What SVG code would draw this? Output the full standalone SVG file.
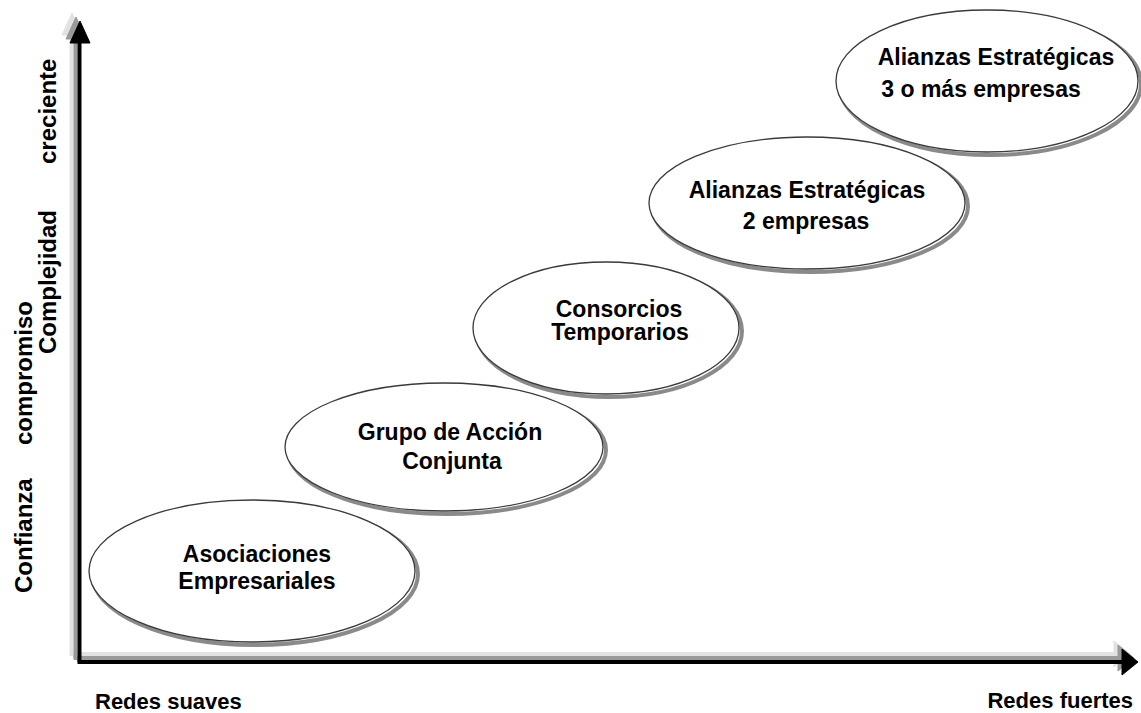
<svg xmlns="http://www.w3.org/2000/svg" width="1141" height="713" viewBox="0 0 1141 713">
<style>
.t{font-family:"Liberation Sans",Arial,sans-serif;font-weight:bold;fill:#000;}
.nt{font-size:23px;text-anchor:middle;}
.ax{font-size:24px;}
.bx{font-size:22px;}
.sh{fill:none;stroke:#8a8a8a;stroke-width:4;}
.el{fill:#fff;stroke:#3a3a3a;stroke-width:1.3;}
</style>
<defs>
<g id="axis">
<line x1="79.5" y1="40" x2="79.5" y2="662" stroke-width="4"/>
<line x1="77.5" y1="662" x2="1124" y2="662" stroke-width="4"/>
<polygon points="80,21 70,43 90,43"/>
<polygon points="1138,662 1122,649 1122,675"/>
</g>
</defs>
<rect width="1141" height="713" fill="#fff"/>
<g id="connectors">
<use href="#axis" transform="translate(-8,-8)" fill="#e2e2e2" stroke="#e2e2e2"/>
<use href="#axis" transform="translate(-4,-4)" fill="#9a9a9a" stroke="#9a9a9a"/>
<use href="#axis" fill="#000" stroke="#000"/>
</g>
<g id="n1">
<ellipse class="sh" cx="255" cy="574" rx="163" ry="71"/>
<ellipse class="el" cx="252" cy="571" rx="163" ry="71"/>
<text class="t nt" x="257" y="562">Asociaciones</text>
<text class="t nt" x="257" y="589">Empresariales</text>
</g>
<g id="n2">
<ellipse class="sh" cx="447" cy="450" rx="159" ry="64"/>
<ellipse class="el" cx="444" cy="447" rx="159" ry="64"/>
<text class="t nt" x="450" y="440">Grupo de Acción</text>
<text class="t nt" x="452" y="469">Conjunta</text>
</g>
<g id="n3">
<ellipse class="sh" cx="609" cy="331" rx="133" ry="66"/>
<ellipse class="el" cx="606" cy="328" rx="133" ry="66"/>
<text class="t nt" x="619" y="317">Consorcios</text>
<text class="t nt" x="620" y="340">Temporarios</text>
</g>
<g id="n4">
<ellipse class="sh" cx="810" cy="206" rx="158" ry="66"/>
<ellipse class="el" cx="807" cy="203" rx="158" ry="66"/>
<text class="t nt" x="807" y="198">Alianzas Estratégicas</text>
<text class="t nt" x="806" y="229">2 empresas</text>
</g>
<g id="n5">
<ellipse class="sh" cx="990" cy="84" rx="151" ry="71"/>
<ellipse class="el" cx="987" cy="81" rx="151" ry="71"/>
<text class="t nt" x="996" y="65">Alianzas Estratégicas</text>
<text class="t nt" x="981" y="97">3 o más empresas</text>
</g>
<g id="labels">
<text class="t ax" transform="translate(32,593) rotate(-90)">Confianza</text>
<text class="t ax" transform="translate(32,445) rotate(-90)">compromiso</text>
<text class="t ax" transform="translate(56,354) rotate(-90)">Complejidad</text>
<text class="t ax" transform="translate(56,164) rotate(-90)">creciente</text>
<text class="t bx" x="95" y="709">Redes suaves</text>
<text class="t bx" x="1133" y="708" text-anchor="end">Redes fuertes</text>
</g>
</svg>
